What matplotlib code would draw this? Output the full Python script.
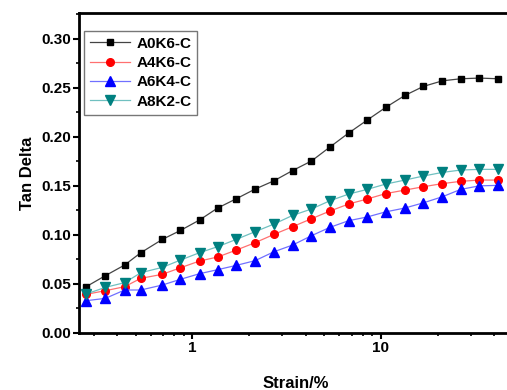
import matplotlib
matplotlib.use("Agg")
import matplotlib.pyplot as plt
from matplotlib.ticker import LogLocator, FixedLocator, NullFormatter, MultipleLocator, FormatStrFormatter

plt.rcParams['font.family'] = ['Liberation Sans', 'DejaVu Sans']
plt.rcParams['font.weight'] = 'bold'

strain = [0.273, 0.345, 0.437, 0.532, 0.693, 0.864, 1.09, 1.36, 1.71, 2.15, 2.71, 3.40,
          4.28, 5.36, 6.74, 8.46, 10.6, 13.4, 16.8, 21.2, 26.5, 33.3, 42.0]
a0k6 = [0.0472, 0.0584, 0.0693, 0.0818, 0.0954, 0.1045, 0.1151, 0.1273, 0.1368, 0.1466,
        0.1551, 0.1655, 0.1752, 0.1894, 0.2037, 0.2169, 0.2298, 0.2420, 0.2512, 0.2569,
        0.2590, 0.2597, 0.2590]
a4k6 = [0.0394, 0.0431, 0.0472, 0.0557, 0.0598, 0.0665, 0.0733, 0.0774, 0.0845, 0.0920,
        0.1005, 0.1083, 0.1164, 0.1242, 0.1314, 0.1365, 0.1420, 0.1456, 0.1490, 0.1522,
        0.1545, 0.1558, 0.1558]
a6k4 = [0.0329, 0.0353, 0.0438, 0.0438, 0.0489, 0.0547, 0.0604, 0.0645, 0.0689, 0.0737,
        0.0828, 0.0896, 0.0991, 0.1076, 0.1144, 0.1182, 0.1234, 0.1273, 0.1326, 0.1388,
        0.1463, 0.1499, 0.1504]
a8k2 = [0.0397, 0.0465, 0.0513, 0.0614, 0.0669, 0.0743, 0.0818, 0.0879, 0.0954, 0.1032,
        0.1110, 0.1198, 0.1263, 0.1347, 0.1415, 0.1463, 0.1517, 0.1558, 0.1599, 0.1636,
        0.1660, 0.1667, 0.1667]
labels = ['A0K6-C', 'A4K6-C', 'A6K4-C', 'A8K2-C']
yticks = [0.00, 0.05, 0.10, 0.15, 0.20, 0.25, 0.30]

W, H = 507, 390
fig = plt.figure(figsize=(W / 100, H / 100), dpi=100)
left, right, top, bottom = 79, 512.6, 13, 333
ax = fig.add_axes([left / W, 1 - bottom / H, (right - left) / W, (bottom - top) / H])

styles = [
    dict(marker='s', color='#000000', line='#444444', ms=5),
    dict(marker='o', color='#ff0000', line='#ff7070', ms=5.5),
    dict(marker='^', color='#0000ff', line='#7070ff', ms=6.5),
    dict(marker='v', color='#008080', line='#70c0c0', ms=6.5),
]
for y, lab, st in zip([a0k6, a4k6, a6k4, a8k2], labels, styles):
    ax.plot(strain, y, color=st['line'], lw=0.9, marker=st['marker'], ms=st['ms'],
            mfc=st['color'], mec=st['color'], label=lab)

ax.set_xscale('log')
ax.set_xlim(0.25, 50)
ax.set_ylim(0, 0.326)

ax.xaxis.set_major_locator(FixedLocator([1, 10]))
ax.xaxis.set_major_formatter(FormatStrFormatter('%g'))
ax.xaxis.set_minor_locator(LogLocator(base=10, subs=range(2, 10)))
ax.xaxis.set_minor_formatter(NullFormatter())
ax.yaxis.set_major_locator(FixedLocator(yticks))
ax.yaxis.set_major_formatter(FormatStrFormatter('%.2f'))
ax.yaxis.set_minor_locator(MultipleLocator(0.025))

for s in ['left', 'bottom', 'top']:
    ax.spines[s].set_linewidth(2)
ax.spines['right'].set_visible(False)
ax.tick_params(which='major', direction='out', length=4, width=1.5, labelsize=11, pad=2)
ax.tick_params(which='minor', direction='out', length=2.5, width=1.2)
ax.tick_params(top=False, right=False, which='both')
for t in ax.get_xticklabels() + ax.get_yticklabels():
    t.set_fontweight('bold')

ax.set_xlabel('Strain/%', fontsize=12, fontweight='bold', labelpad=15)
ax.set_ylabel('Tan Delta', fontsize=12, fontweight='bold', labelpad=4)

leg = ax.legend(loc='upper left', bbox_to_anchor=(0.012, 0.945), frameon=True, fancybox=False,
                edgecolor='#555555', prop={'size': 11, 'weight': 'bold'},
                handlelength=2.6, handletextpad=0.4, labelspacing=0.35, borderpad=0.4,
                borderaxespad=0)
leg.get_frame().set_linewidth(1.0)

fig.savefig('out.png', dpi=100)
